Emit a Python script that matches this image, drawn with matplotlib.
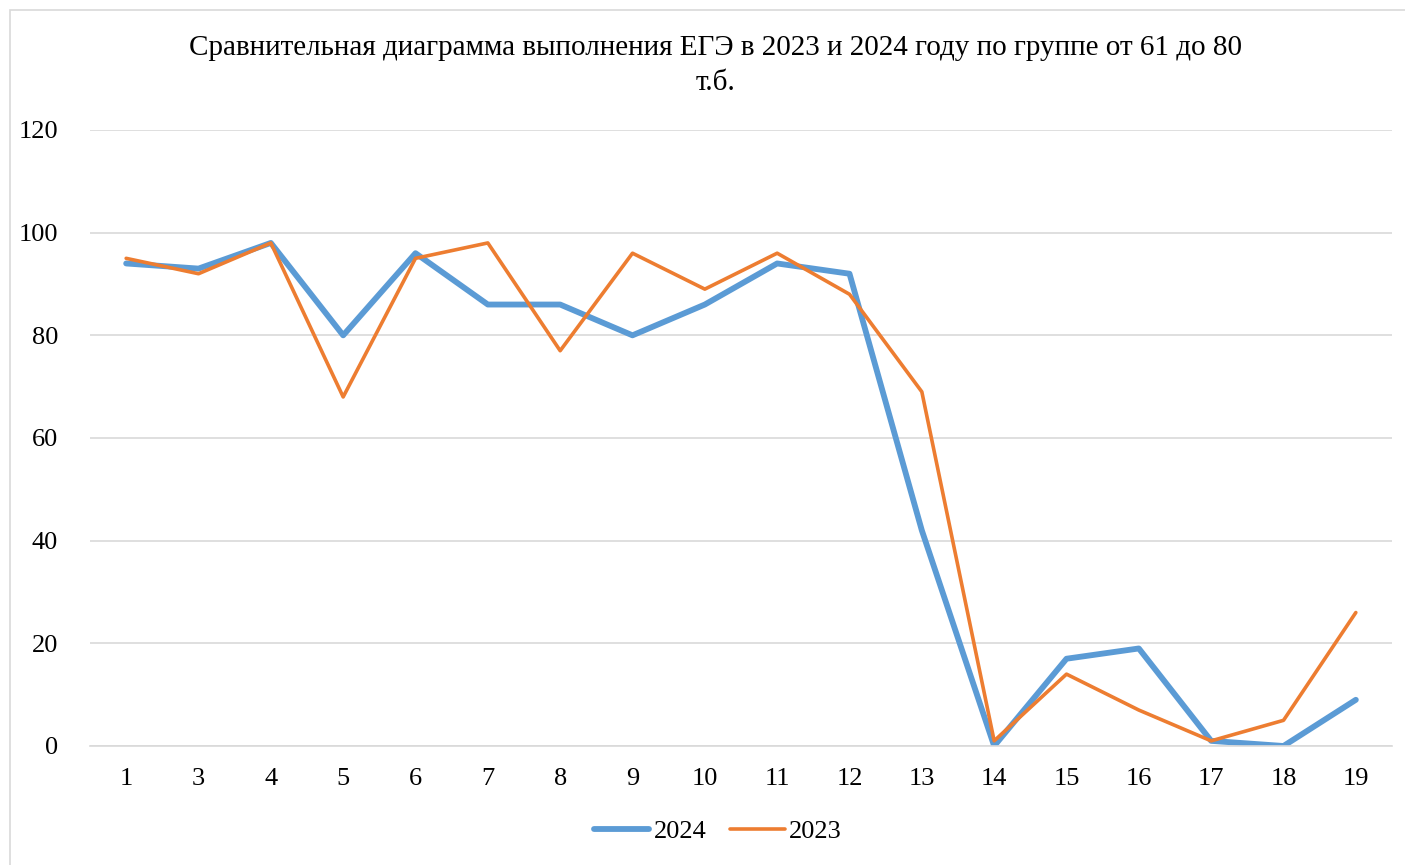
import numpy as np
import matplotlib.pyplot as plt
from matplotlib.patches import Rectangle

plt.rcParams['font.family'] = ['Liberation Serif', 'DejaVu Serif']

tasks = ['1', '3', '4', '5', '6', '7', '8', '9', '10', '11', '12',
         '13', '14', '15', '16', '17', '18', '19']
res_2024 = [94, 93, 98, 80, 96, 86, 86, 80, 86, 94, 92, 42, 0, 17, 19, 1, 0, 9]
res_2023 = [95, 92, 98, 68, 95, 98, 77, 96, 89, 96, 88, 69, 1, 14, 7, 1, 5, 26]

fig = plt.figure(figsize=(14.05, 8.65), dpi=100)
# chart border
fig.patches.append(Rectangle((10 / 1405, -0.1), 1.2, (865 - 10) / 865 + 0.1,
                             transform=fig.transFigure, fill=False,
                             edgecolor='#d9d9d9', linewidth=1.2))

ax = fig.add_axes([90 / 1405, (865 - 746) / 865, 1302 / 1405, 616 / 865])
x = np.arange(len(tasks))
ax.plot(x, res_2024, color='#5b9bd5', lw=4.2, solid_capstyle='round',
        solid_joinstyle='round', label='2024')
ax.plot(x, res_2023, color='#ed7d31', lw=2.6, solid_capstyle='round',
        solid_joinstyle='round', label='2023')

ax.set_xlim(-0.5, len(tasks) - 0.5)
ax.set_ylim(0, 120)
ax.set_yticks(range(0, 121, 20))
ax.set_xticks(x)
ax.set_xticklabels(tasks)
ax.tick_params(length=0, labelsize=19, colors='black')
ax.tick_params(axis='x', pad=16)
ax.tick_params(axis='y', pad=23)
ax.grid(axis='y', color='#d9d9d9', lw=1.2)
ax.set_axisbelow(True)
for s in ['top', 'right', 'left']:
    ax.spines[s].set_visible(False)
ax.spines['bottom'].set_color('#d9d9d9')
ax.spines['bottom'].set_linewidth(1.2)

fig.text(0.509, 1 - 48 / 865, 'Сравнительная диаграмма выполнения ЕГЭ в 2023 и 2024 году по группе от 61 до 80',
         ha='center', va='center', fontsize=21)
fig.text(0.509, 1 - 83 / 865, 'т.б.', ha='center', va='center', fontsize=21)

fig.legend(loc='center', bbox_to_anchor=(718 / 1405, 1 - 831 / 865), ncol=2,
           frameon=False, fontsize=19, handlelength=2.1, handletextpad=0.15,
           columnspacing=0.9)

fig.savefig('out.png', dpi=100)
